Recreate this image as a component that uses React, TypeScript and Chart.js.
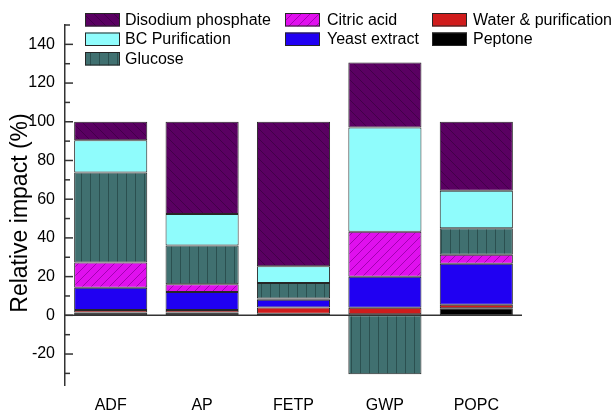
import { useEffect, useRef } from 'react';
import { Chart, registerables } from 'chart.js';

Chart.register(...registerables);

const categories = ['ADF', 'AP', 'FETP', 'GWP', 'POPC'];
const peptone = [1.5, 1.5, 0.8, 0.5, 3.7];
const waterPurification = [1.2, 1.3, 3.3, 3.4, 1.7];
const yeastExtract = [11.6, 9.2, 4.0, 16.0, 21.2];
const citricAcid = [13.0, 4.1, 0.6, 23.3, 4.7];
const glucose = [46.5, 20.0, 8.0, -30.5, 13.7];
const bcPurification = [16.7, 16.2, 8.6, 53.9, 19.3];
const disodiumPhosphate = [9.5, 47.7, 74.7, 33.5, 35.7];
const yTickLabels = [-20, 0, 20, 40, 60, 80, 100, 120, 140];
const yMin = -36;
const yMax = 150;

const FONT = "'Liberation Sans', Arial, Helvetica, sans-serif";

function makePattern(bg: string, line: string, kind: 'back' | 'fwd' | 'vert' | 'none', size: number) {
  const c = document.createElement('canvas');
  c.width = size;
  c.height = size;
  const g = c.getContext('2d')!;
  g.fillStyle = bg;
  g.fillRect(0, 0, size, size);
  if (kind !== 'none') {
    g.strokeStyle = line;
    g.lineWidth = 1;
    g.beginPath();
    if (kind === 'back') {
      g.moveTo(0, 0); g.lineTo(size, size);
      g.moveTo(-2, size - 2); g.lineTo(2, size + 2);
      g.moveTo(size - 2, -2); g.lineTo(size + 2, 2);
    } else if (kind === 'fwd') {
      g.moveTo(0, size); g.lineTo(size, 0);
      g.moveTo(-2, 2); g.lineTo(2, -2);
      g.moveTo(size - 2, size + 2); g.lineTo(size + 2, size - 2);
    } else {
      g.moveTo(0.5, 0); g.lineTo(0.5, size);
    }
    g.stroke();
  }
  const ctx = document.createElement('canvas').getContext('2d')!;
  return ctx.createPattern(c, 'repeat')!;
}

export default function App() {
  const ref = useRef<HTMLCanvasElement>(null);

  useEffect(() => {
    const canvas = ref.current!;
    Chart.defaults.font.family = FONT;

    const fills: Record<string, any> = {
      'Peptone': '#000000',
      'Water & purification': '#d01c1c',
      'Yeast extract': '#2000f2',
      'Citric acid': makePattern('#e010ee', '#a400b4', 'fwd', 9),
      'Glucose': makePattern('#407070', '#2b5050', 'vert', 9),
      'BC Purification': '#8ffcfc',
      'Disodium phosphate': makePattern('#5a0062', '#420049', 'back', 10),
    };

    const series: [string, number[]][] = [
      ['Peptone', peptone],
      ['Water & purification', waterPurification],
      ['Yeast extract', yeastExtract],
      ['Citric acid', citricAcid],
      ['Glucose', glucose],
      ['BC Purification', bcPurification],
      ['Disodium phosphate', disodiumPhosphate],
    ];

    const legendItems: [string, number, number][] = [
      ['Disodium phosphate', 0, 0],
      ['BC Purification', 0, 1],
      ['Glucose', 0, 2],
      ['Citric acid', 1, 0],
      ['Yeast extract', 1, 1],
      ['Water & purification', 2, 0],
      ['Peptone', 2, 1],
    ];
    const colBox = [85, 285, 432];
    const colText = [125, 327, 473];
    const rowTop = [13, 32.5, 52];

    const overlay = {
      id: 'overlay',
      afterDatasetsDraw(chart: any) {
        const ctx = chart.ctx as CanvasRenderingContext2D;
        const ys = chart.scales.y;
        const area = chart.chartArea;
        ctx.save();
        const y0 = ys.getPixelForValue(0);
        ctx.strokeStyle = '#333';
        ctx.lineWidth = 1.5;
        ctx.beginPath();
        ctx.moveTo(area.left, y0);
        ctx.lineTo(area.right, y0);
        ctx.stroke();
        for (let v = -30; v <= 150; v += 10) {
          const y = ys.getPixelForValue(v);
          const len = v % 20 === 0 ? 8 : 5;
          ctx.beginPath();
          ctx.moveTo(area.left, y);
          ctx.lineTo(area.left + len, y);
          ctx.stroke();
        }
        ctx.fillStyle = '#000';
        ctx.font = `23px ${FONT}`;
        ctx.textAlign = 'center';
        ctx.textBaseline = 'alphabetic';
        ctx.translate(27, 213);
        ctx.rotate(-Math.PI / 2);
        ctx.fillText('Relative impact (%)', 0, 0);
        ctx.restore();

        ctx.save();
        ctx.font = `16px ${FONT}`;
        ctx.textAlign = 'left';
        ctx.textBaseline = 'middle';
        for (const [name, col, row] of legendItems) {
          const x = colBox[col];
          const y = rowTop[row];
          ctx.fillStyle = fills[name];
          ctx.fillRect(x, y, 35, 13.5);
          ctx.strokeStyle = '#262626';
          ctx.lineWidth = 1;
          ctx.strokeRect(x + 0.5, y + 0.5, 34, 12.5);
          ctx.fillStyle = '#000';
          ctx.fillText(name, colText[col], y + 7.5);
        }
        ctx.restore();
      },
    };

    const chart = new Chart(canvas, {
      type: 'bar',
      data: {
        labels: categories,
        datasets: series.map(([name, data]) => ({
          label: name,
          data,
          backgroundColor: fills[name],
          borderColor: '#262626',
          borderWidth: 1,
          borderSkipped: false,
          barPercentage: 0.8,
          categoryPercentage: 1,
        })),
      },
      options: {
        responsive: false,
        animation: false,
        devicePixelRatio: 1,
        layout: { padding: { top: 25, right: 89, left: 0, bottom: 0 } },
        plugins: { legend: { display: false }, tooltip: { enabled: false } },
        scales: {
          x: {
            stacked: true,
            grid: { display: false, drawTicks: false },
            border: { display: false },
            ticks: { color: '#000', font: { size: 16 }, padding: 11 },
            afterFit: (s: any) => { s.height = 30; },
          },
          y: {
            stacked: true,
            min: yMin,
            max: yMax,
            afterBuildTicks: (s: any) => { s.ticks = yTickLabels.map((v) => ({ value: v })); },
            grid: { display: false, drawTicks: false },
            border: { display: true, color: '#333', width: 1.5 },
            ticks: { color: '#000', font: { size: 16 }, padding: 10 },
            afterFit: (s: any) => { s.width = 65; },
          },
        },
      } as any,
      plugins: [overlay],
    });
    return () => chart.destroy();
  }, []);

  return (
    <div style={{ position: 'fixed', left: 0, top: 0, width: 611, height: 415, background: '#fff' }}>
      <canvas ref={ref} width={611} height={415} style={{ display: 'block', width: 611, height: 415 }} />
    </div>
  );
}
